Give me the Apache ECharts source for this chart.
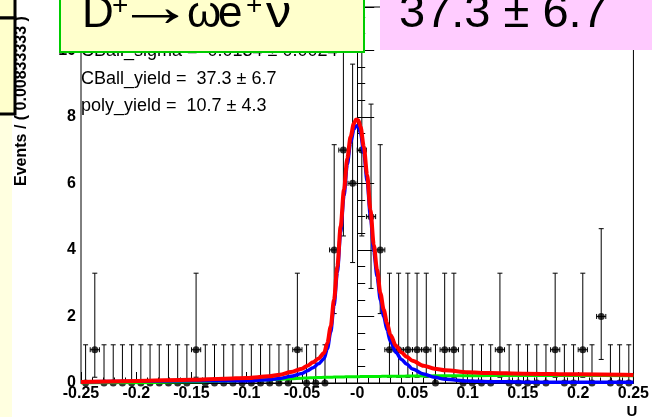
<!DOCTYPE html>
<html lang="en">
<head>
    <meta charset="UTF-8">
    <title>U fit</title>
    <script src="https://cdn.jsdelivr.net/npm/echarts@6/dist/echarts.min.js"></script>
    <style>
        html, body { margin: 0; padding: 0; background: #fff; }
        #main { width: 652px; height: 417px; }
    </style>
</head>
<body>
<div id="main"></div>
<script>
    // histogram: 60 bins from -0.25 to 0.25
    var binLow = -0.25;
    var binWidth = 0.5 / 60;
    var counts = [
        0, 1, 0, 0, 0, 0, 0, 0, 0, 0,
        0, 0, 1, 0, 0, 0, 0, 0, 0, 0,
        0, 0, 0, 1, 0, 0, 0, 4, 7, 6,
        7, 5, 4, 1, 1, 1, 1, 1, 0, 1,
        1, 0, 0, 0, 0, 1, 0, 0, 0, 0,
        0, 1, 0, 0, 1, 0, 2, 0, 0, 0
    ];
    // asymmetric poisson errors indexed by count
    var poissonLo = [0, 0.827, 1.292, 1.633, 1.914, 2.159, 2.380, 2.581];
    var poissonHi = [1.148, 2.300, 2.638, 2.918, 3.162, 3.382, 3.583, 3.770];

    // fit curves
    var curveU = [-0.25, -0.2, -0.15, -0.12, -0.1, -0.08, -0.07, -0.06, -0.05, -0.045,
        -0.04, -0.035, -0.03, -0.027, -0.024, -0.021, -0.018, -0.015, -0.012, -0.009,
        -0.006, -0.003, -0.001, 0.001, 0.003, 0.006, 0.009, 0.012, 0.015, 0.018,
        0.021, 0.024, 0.027, 0.03, 0.035, 0.04, 0.045, 0.05, 0.06, 0.07,
        0.08, 0.1, 0.12, 0.15, 0.2, 0.25];
    var totalFit = [0.03, 0.06, 0.10, 0.13, 0.15, 0.20, 0.25, 0.33, 0.43, 0.52,
        0.62, 0.74, 0.90, 1.20, 1.70, 2.50, 3.50, 4.70, 5.80, 6.75,
        7.40, 7.80, 7.92, 7.90, 7.70, 7.10, 6.25, 5.20, 4.15, 3.40,
        2.70, 2.20, 1.80, 1.45, 1.12, 0.92, 0.78, 0.67, 0.52, 0.43,
        0.38, 0.32, 0.30, 0.28, 0.26, 0.24];
    var signalFit = [0.03, 0.05, 0.065, 0.07, 0.07, 0.10, 0.135, 0.20, 0.285, 0.37,
        0.46, 0.575, 0.73, 1.03, 1.53, 2.32, 3.32, 4.52, 5.62, 6.57,
        7.22, 7.62, 7.73, 7.71, 7.51, 6.91, 6.06, 5.00, 3.95, 3.20,
        2.50, 2.00, 1.60, 1.25, 0.92, 0.71, 0.56, 0.42, 0.27, 0.17,
        0.11, 0.06, 0.04, 0.03, 0.02, 0.02];
    var bkgFit = [0.0, 0.01, 0.035, 0.06, 0.08, 0.10, 0.115, 0.13, 0.145, 0.15,
        0.16, 0.165, 0.17, 0.172, 0.175, 0.178, 0.18, 0.182, 0.184, 0.186,
        0.188, 0.19, 0.19, 0.19, 0.192, 0.194, 0.195, 0.196, 0.197, 0.198,
        0.199, 0.2, 0.2, 0.202, 0.204, 0.205, 0.207, 0.21, 0.212, 0.215,
        0.217, 0.22, 0.222, 0.225, 0.225, 0.22];

    var xTickLabels = ['-0.25', '-0.2', '-0.15', '-0.1', '-0.05', '-0', '0.05', '0.1', '0.15', '0.2', '0.25'];
    var yTickLabels = ['0', '2', '4', '6', '8', '10'];
    var fitLines = [
        'CBall_sigma =  0.0134 \u00b1 0.0024',
        'CBall_yield =  37.3 \u00b1 6.7',
        'poly_yield =  10.7 \u00b1 4.3'
    ];

    var points = [], errs = [];
    for (var i = 0; i < counts.length; i++) {
        var xc = binLow + (i + 0.5) * binWidth;
        points.push([xc, counts[i]]);
        errs.push([xc, counts[i], poissonLo[counts[i]], poissonHi[counts[i]]]);
    }
    function pairs(ys) {
        return curveU.map(function (u, k) { return [u, ys[k]]; });
    }

    function renderErr(params, api) {
        var x = api.value(0), y = api.value(1), lo = api.value(2), hi = api.value(3);
        var c = api.coord([x, y]);
        var top = api.coord([x, y + hi]);
        var bot = api.coord([x, y - lo]);
        var l = api.coord([x - binWidth / 2, y]);
        var r = api.coord([x + binWidth / 2, y]);
        var st = { stroke: '#000', lineWidth: 1 };
        var kids = [
            { type: 'line', shape: { x1: c[0], y1: bot[1], x2: c[0], y2: top[1] }, style: st },
            { type: 'line', shape: { x1: c[0] - 2.5, y1: top[1], x2: c[0] + 2.5, y2: top[1] }, style: st }
        ];
        if (lo > 0) {
            kids.push({ type: 'line', shape: { x1: c[0] - 2.5, y1: bot[1], x2: c[0] + 2.5, y2: bot[1] }, style: st });
            kids.push({ type: 'line', shape: { x1: l[0], y1: c[1], x2: r[0], y2: c[1] }, style: st });
            kids.push({ type: 'line', shape: { x1: l[0], y1: c[1] - 2.5, x2: l[0], y2: c[1] + 2.5 }, style: st });
            kids.push({ type: 'line', shape: { x1: r[0], y1: c[1] - 2.5, x2: r[0], y2: c[1] + 2.5 }, style: st });
        }
        return { type: 'group', children: kids };
    }

    var font = '"Liberation Sans", Arial, Helvetica, sans-serif';
    var chart = echarts.init(document.getElementById('main'));

    var graphics = [
        { type: 'rect', shape: { x: 0, y: 0, width: 12, height: 417 }, style: { fill: '#ffffe0' }, z: 1 },
        {
            type: 'text', x: 22, y: 186, rotation: Math.PI / 2, z: 5,
            style: { text: 'Events / ( 0.00833333 )', font: 'bold 16px ' + font, fill: '#000', align: 'left', verticalAlign: 'middle' }
        },
        { type: 'rect', shape: { x: -5, y: -5, width: 20, height: 23 }, style: { fill: '#ffffcc', stroke: '#000', lineWidth: 3 }, z: 100 },
        { type: 'rect', shape: { x: -5, y: 18, width: 20, height: 96 }, style: { fill: '#ffffcc', stroke: '#000', lineWidth: 3 }, z: 100 },
        // decay label box
        { type: 'rect', shape: { x: 60, y: -3, width: 304, height: 55 }, style: { fill: '#ffffcc', stroke: '#00cc00', lineWidth: 2 }, z: 100 },
        // yield box
        { type: 'rect', shape: { x: 380, y: -2, width: 280, height: 52 }, style: { fill: '#ffccff' }, z: 100 },
        {
            type: 'text', x: 399, y: 14, z: 101,
            style: { text: '37.3 \u00b1 6.7', font: '47px ' + font, fill: '#000', align: 'left', verticalAlign: 'middle' }
        },
        { type: 'text', x: 632, y: 412, z: 5, style: { text: 'U', font: 'bold 15px ' + font, fill: '#000', align: 'center', verticalAlign: 'middle' } }
    ];
    // [text, x, size, y, stretch]
    var decay = [['D', 82, 44, 15, 1], ['+', 112, 28, 6, 1], ['\u2192', 116, 58, 10, 1.35], ['\u03c9', 187, 44, 15, 1],
        ['e', 218, 44, 15, 1], ['+', 246, 28, 6, 1], ['\u03bd', 266, 44, 15, 1.15]];
    decay.forEach(function (d) {
        graphics.push({
            type: 'text', x: d[1], y: d[3], z: 101, scaleX: d[4],
            style: { text: d[0], font: d[2] + 'px ' + font, fill: '#000', align: 'left', verticalAlign: 'middle' }
        });
    });
    fitLines.forEach(function (t, k) {
        graphics.push({
            type: 'text', x: 81, y: 51 + k * 27.7, z: 50,
            style: { text: t, font: '18px ' + font, fill: '#000', align: 'left', verticalAlign: 'middle' }
        });
    });

    chart.setOption({
        animation: false,
        backgroundColor: '#fff',
        grid: { left: 81, right: 16, top: 7, bottom: 34, show: true, borderColor: '#000', borderWidth: 1 },
        xAxis: {
            type: 'value', min: -0.25, max: 0.25, interval: 0.05,
            axisLine: { lineStyle: { color: '#000', width: 1 } },
            axisTick: { inside: true, length: 11, lineStyle: { color: '#000' } },
            minorTick: { show: true, splitNumber: 5, length: 5.5, lineStyle: { color: '#000' } },
            splitLine: { show: false },
            axisLabel: {
                color: '#000', fontWeight: 'bold', fontSize: 16, fontFamily: font, margin: 3,
                formatter: function (v) { return xTickLabels[Math.round((v + 0.25) / 0.05)]; }
            }
        },
        yAxis: {
            type: 'value', min: 0, max: 11.3, interval: 2,
            axisLine: { show: true, lineStyle: { color: '#000', width: 1 } },
            axisTick: { inside: true, length: 17, lineStyle: { color: '#000' } },
            minorTick: { show: true, splitNumber: 4, length: 8, lineStyle: { color: '#000' } },
            splitLine: { show: false },
            axisLabel: {
                color: '#000', fontWeight: 'bold', fontSize: 16, fontFamily: font, margin: 5,
                formatter: function (v) {
                    var k = Math.round(v / 2);
                    return Math.abs(v - 2 * k) < 1e-6 ? yTickLabels[k] : '';
                }
            }
        },
        graphic: graphics,
        series: [
            { type: 'custom', renderItem: renderErr, data: errs, clip: true, z: 3, silent: true },
            { type: 'scatter', data: points, symbol: 'circle', symbolSize: 7, itemStyle: { color: '#000' }, z: 4, silent: true },
            { type: 'line', data: pairs(bkgFit), showSymbol: false, smooth: 0.3, smoothMonotone: 'x', lineStyle: { color: '#00ee00', width: 3 }, z: 5 },
            { type: 'line', data: pairs(signalFit), showSymbol: false, smooth: 0.3, smoothMonotone: 'x', lineStyle: { color: '#0000ff', width: 3.5 }, z: 6 },
            { type: 'line', data: pairs(totalFit), showSymbol: false, smooth: 0.3, smoothMonotone: 'x', lineStyle: { color: '#ff0000', width: 4 }, z: 7 }
        ]
    });
</script>
</body>
</html>
